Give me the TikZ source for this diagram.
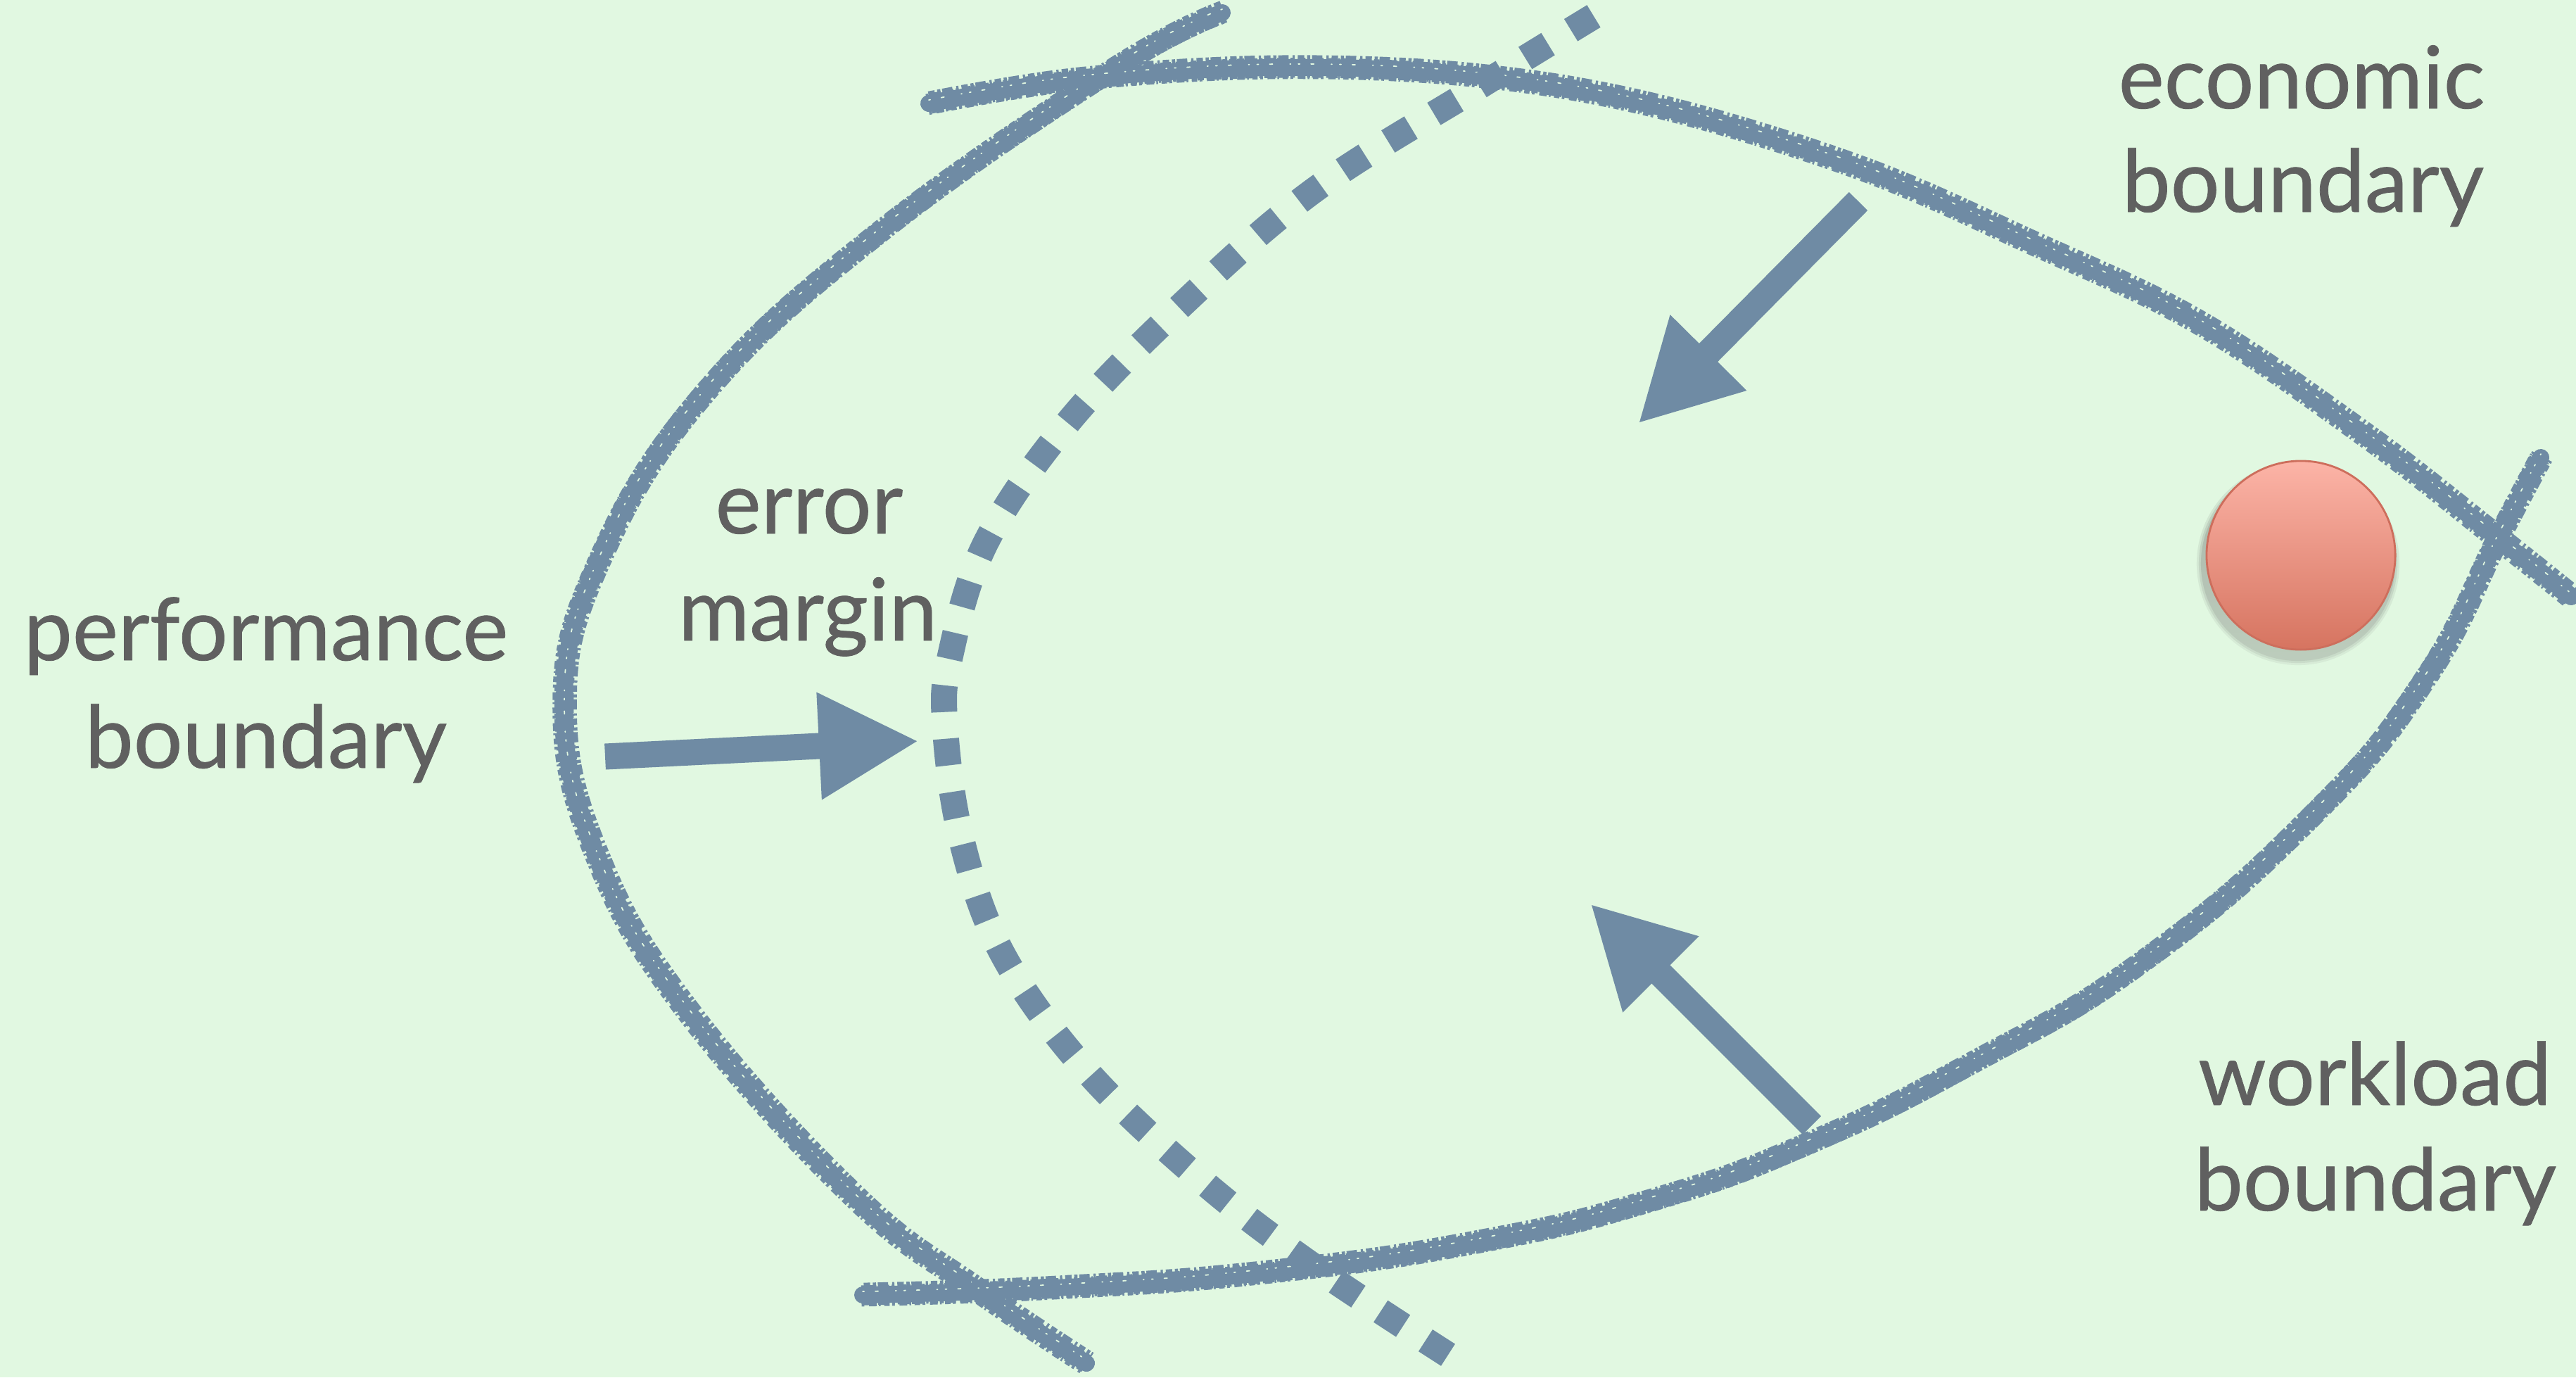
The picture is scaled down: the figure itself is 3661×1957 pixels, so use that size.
\documentclass[tikz,border=0pt]{standalone}
\usepackage{fontspec}
\setmainfont{Lato}[FakeBold=0.6]
\usetikzlibrary{arrows.meta}
\definecolor{bg}{RGB}{225,248,225}
\definecolor{chalk}{RGB}{111,139,164}
\definecolor{txt}{RGB}{96,96,96}
\definecolor{balltop}{RGB}{252,180,167}
\definecolor{ballbot}{RGB}{214,116,96}
\definecolor{ballrim}{RGB}{205,110,92}
\definecolor{shade}{RGB}{50,90,60}
\newcommand\chalkline[2][0.6]{%
  \draw[chalkcore] plot[smooth, tension=#1] coordinates {#2};
  \draw[chalkedgea] plot[smooth, tension=#1] coordinates {#2};
  \draw[chalkedgeb] plot[smooth, tension=#1] coordinates {#2};
  \draw[chalkspeck] plot[smooth, tension=#1] coordinates {#2};
}
\begin{document}
\begin{tikzpicture}[x=0.01cm,y=-0.01cm,
  chalkcore/.style={draw=chalk, line width=0.24cm, line cap=round, line join=round},
  chalkedgea/.style={draw=chalk, line width=0.32cm, line cap=butt, xshift=0.5pt, yshift=0.4pt,
    dash pattern=on 2.6pt off 1.1pt on 1.3pt off 0.7pt on 4.2pt off 1.6pt on 0.9pt off 1.2pt},
  chalkedgeb/.style={draw=chalk, line width=0.3cm, line cap=butt, xshift=-0.5pt, yshift=-0.4pt,
    dash pattern=on 1.1pt off 1.9pt on 3.1pt off 0.9pt on 0.7pt off 1.4pt on 2.2pt off 1.0pt},
  chalkspeck/.style={draw=bg, line width=0.5pt, line cap=round, yshift=1.4pt,
    dash pattern=on 0.6pt off 4.5pt on 1.2pt off 7pt on 0.3pt off 3.1pt},
  marginline/.style={draw=chalk, line width=0.37cm, dash pattern=on 0.38cm off 0.38cm},
  push/.style={draw=chalk, line width=0.37cm, -{Triangle[length=1.42cm,width=1.42cm]}},
  lab/.style={text=txt, font=\fontsize{35}{42}\selectfont, anchor=base, inner sep=0pt},
]
\fill[bg] (0,0) rectangle (3661,1957);
\useasboundingbox (0,0) rectangle (3661,1957);

% performance boundary
\chalkline[0.7]{(1737,18) (1580,100) (1250,330) (1000,560) (850,800) (802,1004)
  (850,1220) (980,1440) (1217,1703) (1389,1833) (1544,1937)}
% economic boundary
\chalkline{(1320,147) (1531,113) (1811,96) (2092,107) (2350,150) (2641,238)
  (2883,343) (3124,458) (3365,621) (3550,765) (3654,848)}
% workload boundary
\chalkline[0.8]{(1226,1840) (1500,1830) (1800,1808) (2100,1765) (2350,1705) (2570,1625)
  (2802,1511) (3044,1367) (3285,1160) (3446,965) (3550,765) (3611,650)}
% error margin
\draw[marginline] plot[smooth, tension=0.6] coordinates {
  (2265,23) (2102,123) (1868,270) (1681,432) (1518,600) (1401,771)
  (1350,934) (1343,1030) (1366,1191) (1424,1354) (1541,1518) (1705,1675)
  (1868,1800) (2078,1938)};

% arrows
\coordinate (pt) at (860,1075); \coordinate (ph) at (1306,1053);
\coordinate (et) at (2641,286); \coordinate (eh) at (2328,602);
\coordinate (wt) at (2575,1599); \coordinate (wh) at (2260,1284);
\draw[push] (pt) -- (ph);
\draw[push] (et) -- (eh);
\draw[push] (wt) -- (wh);

% ball shadow and ball
\foreach \r/\o in {1.44/0.05,1.41/0.07,1.38/0.09}{
  \fill[shade, opacity=\o] (3266,801) circle[radius=\r cm];
}
\node[circle, minimum size=2.68cm, inner sep=0pt, top color=balltop, bottom color=ballbot,
  draw=ballrim, line width=0.8pt] (ball) at (3270,789) {};

% labels
\node[lab] (perf1) at (378,938) {performance};
\node[lab] (perf2) at (378,1091) {boundary};
\node[lab] (err1) at (1150,758) {error};
\node[lab] (err2) at (1148,910) {margin};
\node[lab] (eco1) at (3271,154) {economic};
\node[lab] (eco2) at (3273,301) {boundary};
\node[lab] (wrk1) at (3375,1570) {workload};
\node[lab] (wrk2) at (3376,1720) {boundary};
\end{tikzpicture}
\end{document}
